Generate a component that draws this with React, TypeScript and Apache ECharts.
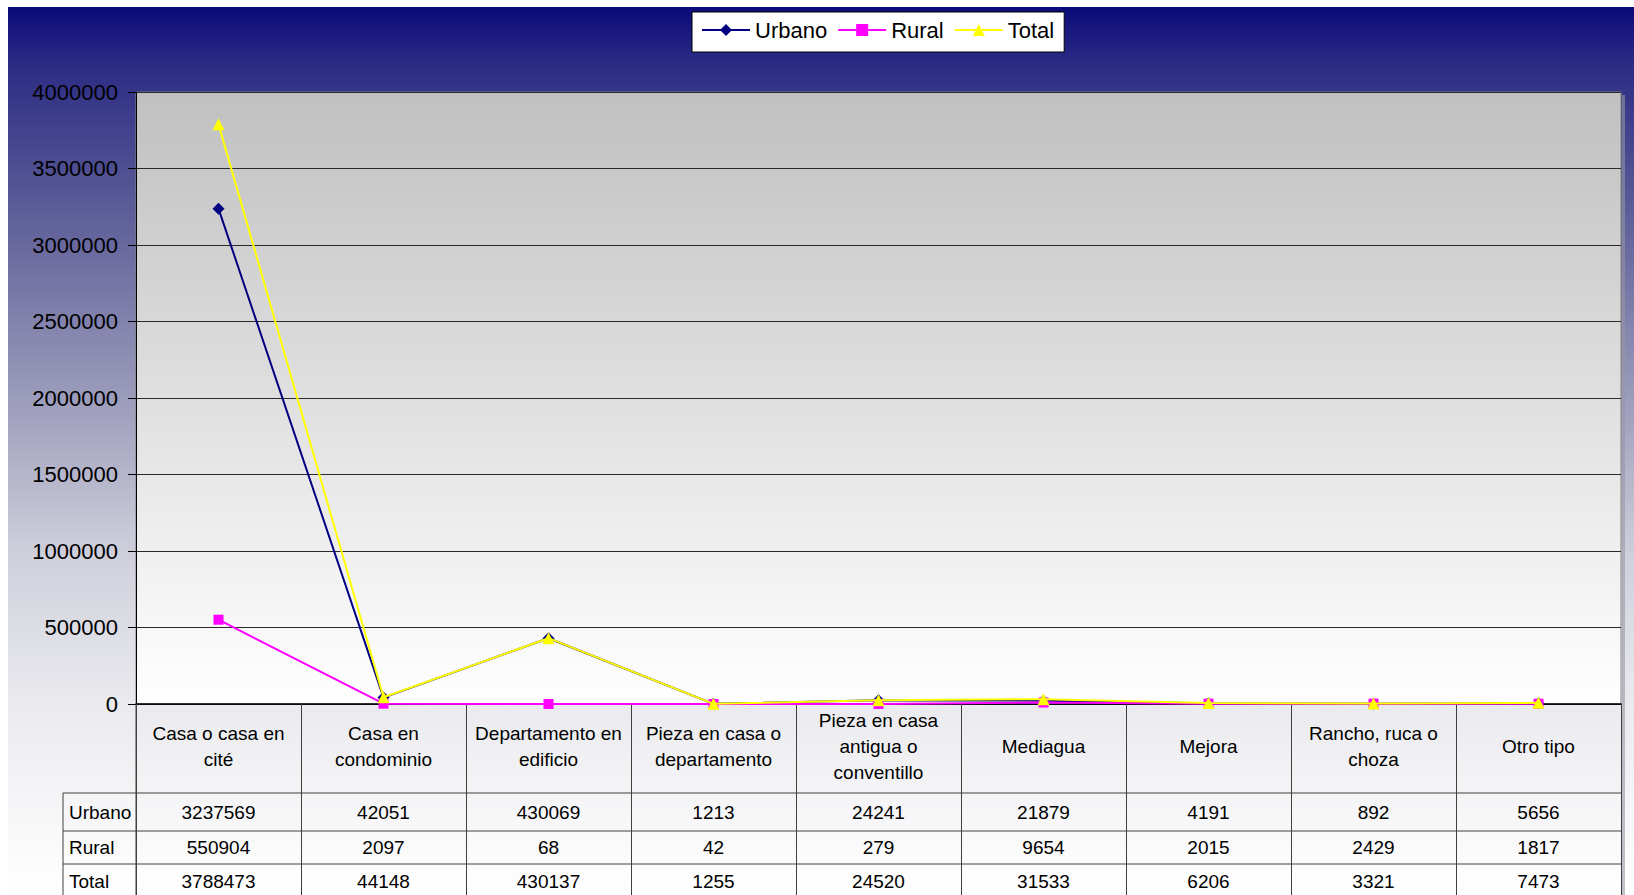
import React, { useEffect, useRef } from "react";
import * as echarts from "echarts";

const categories = [
  "Casa o casa en\ncité",
  "Casa en\ncondominio",
  "Departamento en\nedificio",
  "Pieza en casa o\ndepartamento",
  "Pieza en casa\nantigua o\nconventillo",
  "Mediagua",
  "Mejora",
  "Rancho, ruca o\nchoza",
  "Otro tipo",
];
const seriesNames = ["Urbano", "Rural", "Total"];
const urbano = [3237569, 42051, 430069, 1213, 24241, 21879, 4191, 892, 5656];
const rural = [550904, 2097, 68, 42, 279, 9654, 2015, 2429, 1817];
const total = [3788473, 44148, 430137, 1255, 24520, 31533, 6206, 3321, 7473];
const yMin = 0;
const yMax = 4000000;
const yInterval = 500000;

const FONT = "'Liberation Sans', Arial, sans-serif";

export default function App() {
  const ref = useRef<HTMLDivElement>(null);
  useEffect(() => {
    document.body.style.margin = "0";
    const el = ref.current!;
    const chart = echarts.init(el, undefined, { renderer: "svg" });
    const W = 1634;
    const H = 895;
    const gridLeft = 136;
    const gridTop = 92;
    const gridRight = 13;
    const gridBottom = 191;
    const plotRight = W - gridRight;
    const values = [urbano, rural, total];
    const colors = ["#000080", "#ff00ff", "#ffff00"];
    const symbols = ["diamond", "rect", "triangle"];
    const sizes = [12, 10, 12];

    chart.setOption({
      animation: false,
      textStyle: { fontFamily: FONT },
      legend: {
        left: 692,
        top: 12,
        data: seriesNames,
        backgroundColor: "#ffffff",
        borderColor: "#000000",
        borderWidth: 1,
        padding: [7, 10, 11, 9],
        itemGap: 10,
        itemWidth: 48,
        itemHeight: 15,
        textStyle: { fontSize: 22, color: "#000", fontFamily: FONT, lineHeight: 22 },
      },
      grid: {
        left: gridLeft,
        top: gridTop,
        right: gridRight,
        bottom: gridBottom,
        show: true,
        borderColor: "#808080",
        borderWidth: 1,
        backgroundColor: new echarts.graphic.LinearGradient(0, 0, 0, 1, [
          { offset: 0, color: "#c0c0c0" },
          { offset: 1, color: "#ffffff" },
        ]),
      },
      xAxis: {
        type: "category",
        data: categories,
        boundaryGap: true,
        axisLine: { lineStyle: { color: "#000", width: 1.5 } },
        axisTick: { show: true, length: 200, lineStyle: { color: "#404040", width: 1 } },
        axisLabel: {
          interval: 0,
          fontSize: 19,
          lineHeight: 26,
          color: "#000",
          fontFamily: FONT,
          verticalAlign: "middle",
          margin: 42,
        },
      },
      yAxis: {
        type: "value",
        min: yMin,
        max: yMax,
        interval: yInterval,
        axisLine: { show: true, lineStyle: { color: "#000", width: 1 } },
        axisTick: { show: true, length: 8, lineStyle: { color: "#000" } },
        axisLabel: {
          fontSize: 22,
          color: "#000",
          fontFamily: FONT,
          margin: 18,
          formatter: (v: number) => String(v),
        },
        splitLine: { show: true, lineStyle: { color: "#2a2a2a", width: 1 } },
      },
      series: seriesNames.map((name, k) => ({
        name,
        type: "line",
        data: values[k],
        symbol: symbols[k],
        symbolSize: sizes[k],
        showSymbol: true,
        color: colors[k],
        itemStyle: { color: colors[k] },
        lineStyle: { color: colors[k], width: 2 },
        z: 2 + k,
      })),
    });

    const rowTops = [793, 831, 864];
    const rowBottoms = [831, 864, 898];
    const tableLeft = 63;
    const graphics: any[] = [];
    graphics.push({
      type: "rect",
      z: -100,
      zlevel: -1,
      shape: { x: 8, y: 7, width: W - 8, height: H - 7 },
      style: {
        fill: new echarts.graphic.LinearGradient(0, 0, 0, 1, [
          { offset: 0, color: "#0a0a7a" },
          { offset: 0.06, color: "#2a2a84" },
          { offset: 0.2, color: "#545494" },
          { offset: 0.4, color: "#9090b4" },
          { offset: 0.62, color: "#d0d0dc" },
          { offset: 0.8, color: "#ececf0" },
          { offset: 1, color: "#ffffff" },
        ]),
      },
      silent: true,
    });
    graphics.push({
      type: "rect",
      shape: { x: plotRight + 1, y: gridTop + 3, width: 3, height: H - gridTop - 3 },
      style: { fill: "rgba(150,150,165,0.6)" },
      silent: true,
    });
    rowTops.forEach((y) => {
      graphics.push({
        type: "line",
        shape: { x1: tableLeft, y1: y, x2: plotRight, y2: y },
        style: { stroke: "#404040", lineWidth: 1 },
        silent: true,
      });
    });
    graphics.push({
      type: "line",
      shape: { x1: tableLeft, y1: rowTops[0], x2: tableLeft, y2: H },
      style: { stroke: "#404040", lineWidth: 1 },
      silent: true,
    });
    graphics.push({
      type: "line",
      shape: { x1: gridLeft, y1: H - gridBottom, x2: gridLeft, y2: H },
      style: { stroke: "#404040", lineWidth: 1 },
      silent: true,
    });
    seriesNames.forEach((name, s) => {
      const cy = (rowTops[s] + rowBottoms[s]) / 2;
      graphics.push({
        type: "text",
        x: tableLeft + 6,
        y: cy,
        style: {
          text: name,
          fontSize: 19,
          fontFamily: FONT,
          fill: "#000",
          align: "left",
          verticalAlign: "middle",
        },
        silent: true,
      });
      values[s].forEach((v, i) => {
        const px = chart.convertToPixel({ xAxisIndex: 0 }, i) as number;
        graphics.push({
          type: "text",
          x: px,
          y: cy,
          style: {
            text: String(v),
            fontSize: 19,
            fontFamily: FONT,
            fill: "#000",
            align: "center",
            verticalAlign: "middle",
          },
          silent: true,
        });
      });
    });
    chart.setOption({ graphic: graphics });

    return () => chart.dispose();
  }, []);
  return <div ref={ref} style={{ width: 1634, height: 895, background: "#ffffff" }} />;
}
